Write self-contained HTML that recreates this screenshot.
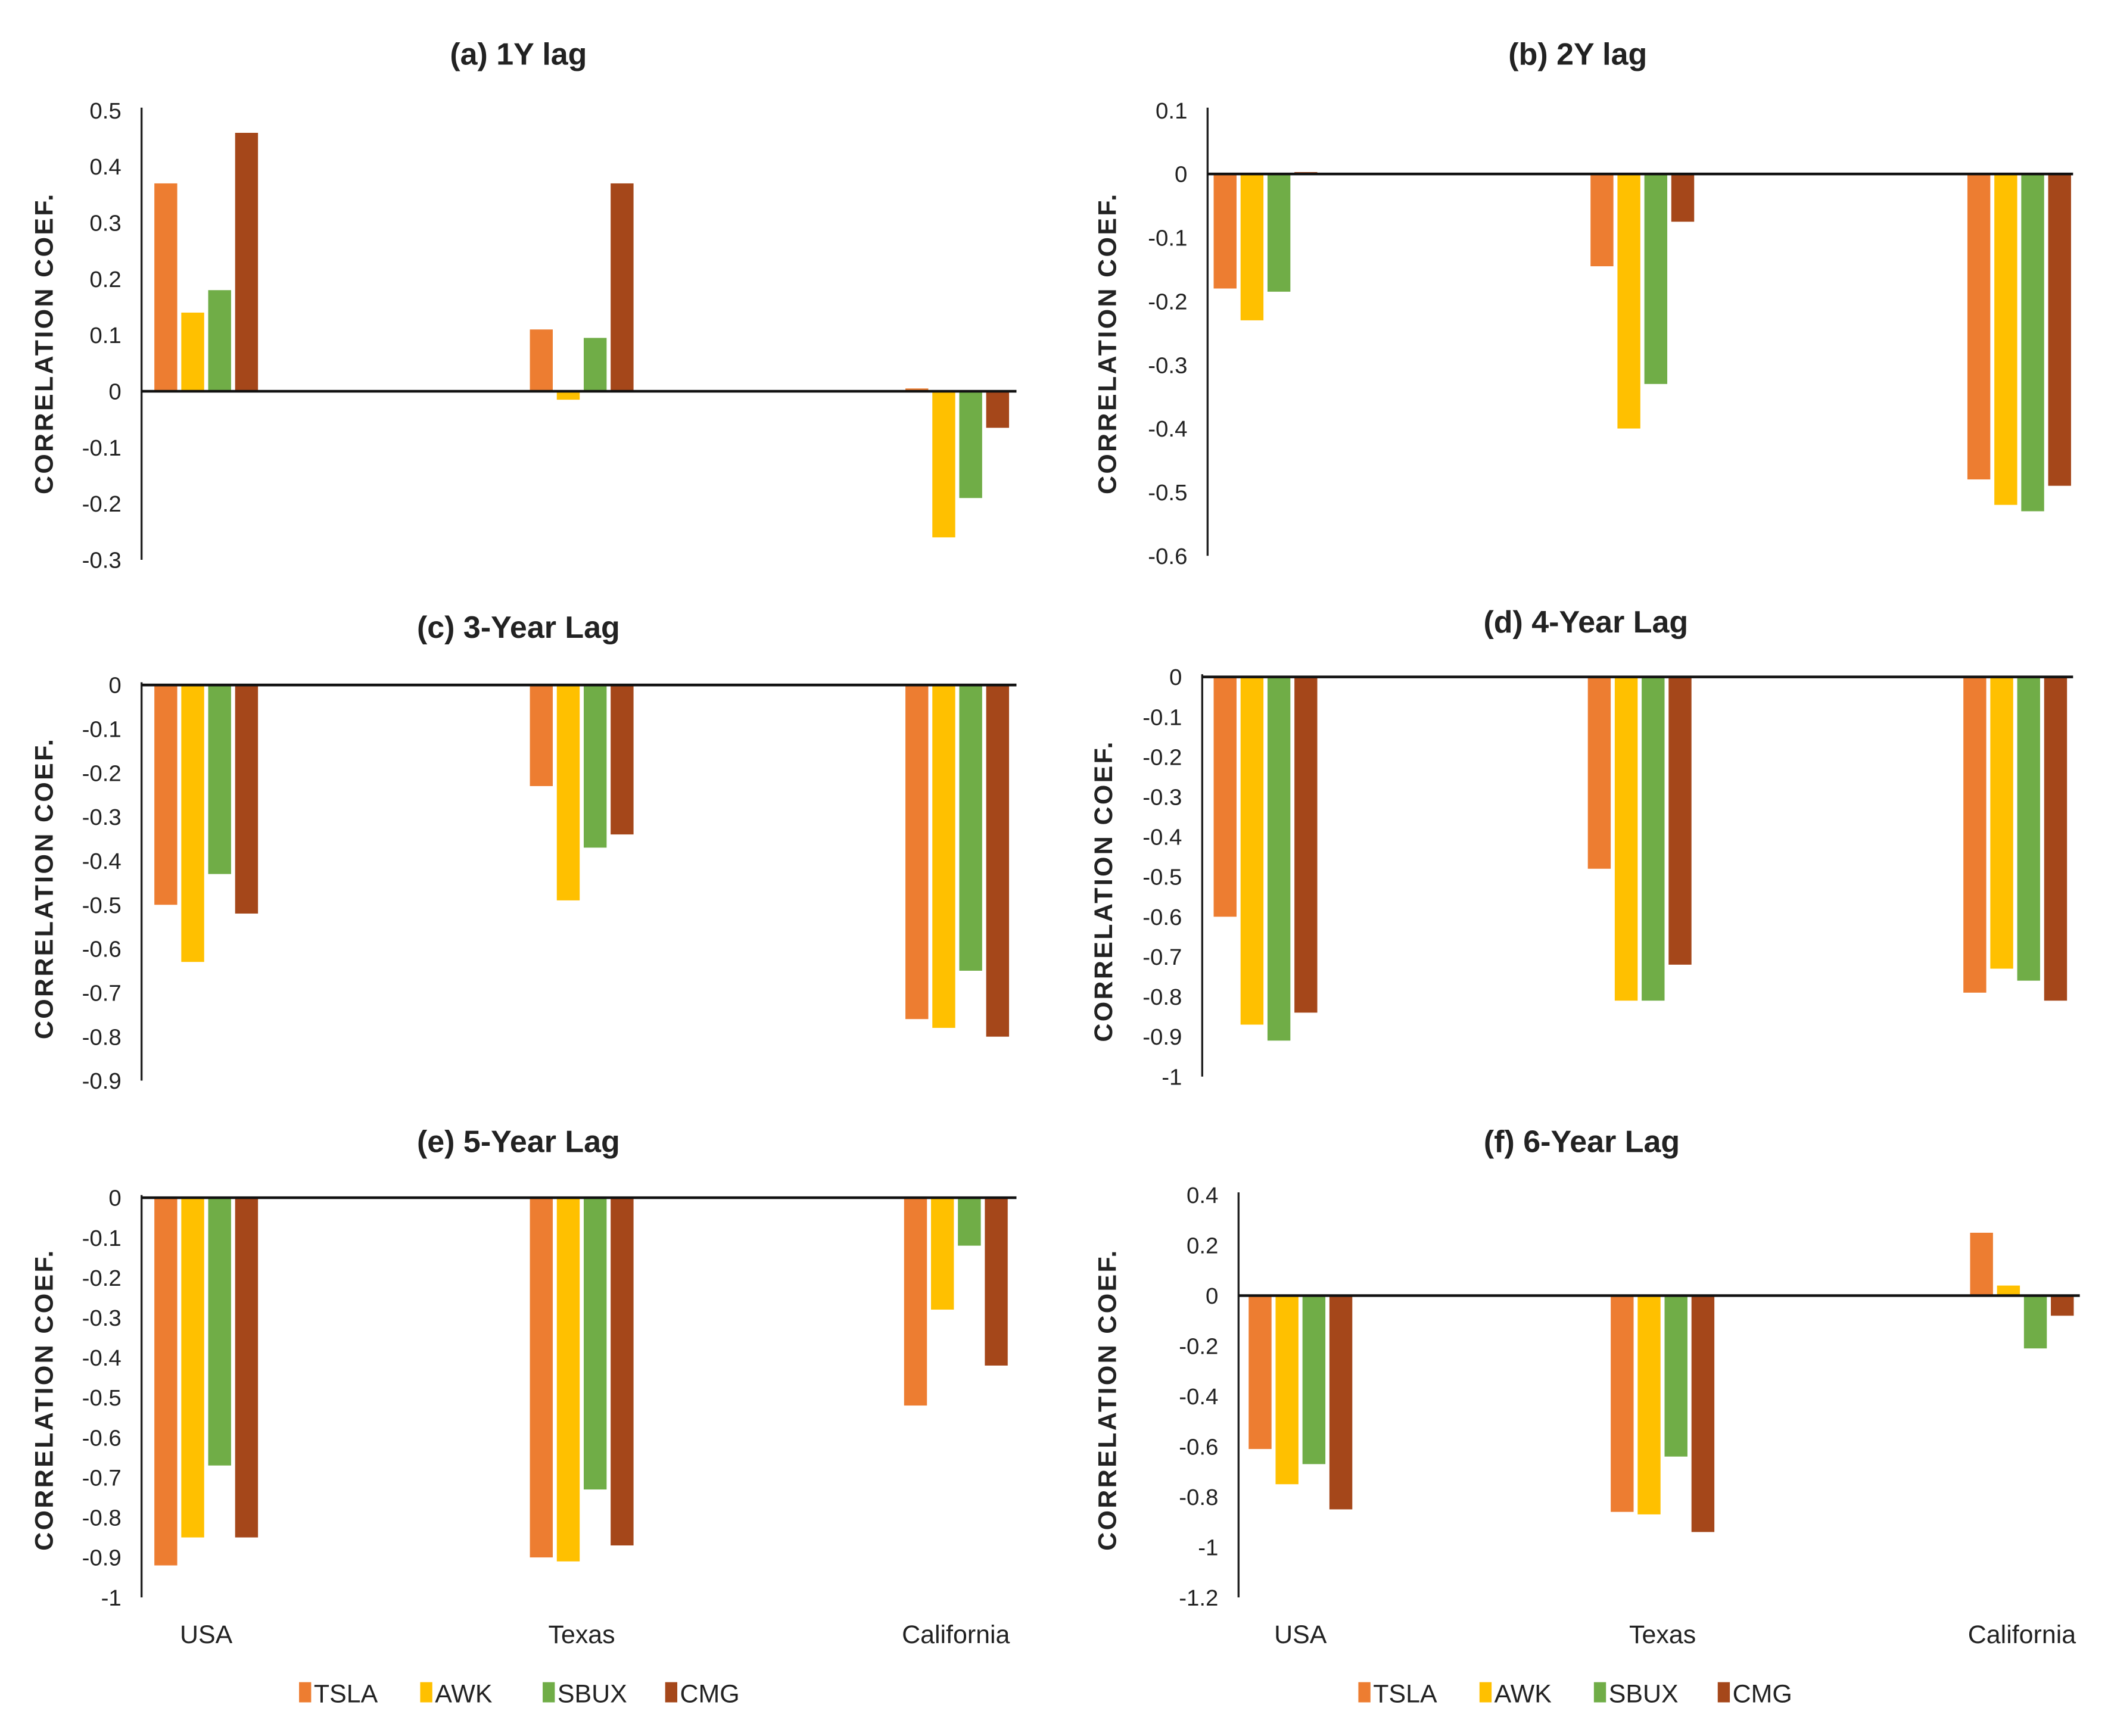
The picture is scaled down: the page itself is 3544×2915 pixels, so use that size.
<!DOCTYPE html>
<html><head><meta charset="utf-8">
<style>
html,body{margin:0;padding:0;background:#fff;}
svg{display:block;}
text{font-family:"Liberation Sans",Arial,sans-serif;}
</style></head>
<body>
<svg id="chart" width="3544" height="2915" viewBox="0 0 1568 1290" xmlns="http://www.w3.org/2000/svg"></svg>
<script>
const categories = ["USA","Texas","California"];
const series = ["TSLA","AWK","SBUX","CMG"];
const colors = ["#ED7D31","#FFC000","#70AD47","#A5471A"];
const valsA = [[0.37,0.14,0.18,0.46],[0.11,-0.015,0.095,0.37],[0.005,-0.26,-0.19,-0.065]];
const valsB = [[-0.18,-0.23,-0.185,0.003],[-0.145,-0.40,-0.33,-0.075],[-0.48,-0.52,-0.53,-0.49]];
const valsC = [[-0.50,-0.63,-0.43,-0.52],[-0.23,-0.49,-0.37,-0.34],[-0.76,-0.78,-0.65,-0.80]];
const valsD = [[-0.60,-0.87,-0.91,-0.84],[-0.48,-0.81,-0.81,-0.72],[-0.79,-0.73,-0.76,-0.81]];
const valsE = [[-0.92,-0.85,-0.67,-0.85],[-0.90,-0.91,-0.73,-0.87],[-0.52,-0.28,-0.12,-0.42]];
const valsF = [[-0.61,-0.75,-0.67,-0.85],[-0.86,-0.87,-0.64,-0.94],[0.25,0.04,-0.21,-0.08]];
const ticksA = ["0.5","0.4","0.3","0.2","0.1","0","-0.1","-0.2","-0.3"];
const ticksB = ["0.1","0","-0.1","-0.2","-0.3","-0.4","-0.5","-0.6"];
const ticksC = ["0","-0.1","-0.2","-0.3","-0.4","-0.5","-0.6","-0.7","-0.8","-0.9"];
const ticksD = ["0","-0.1","-0.2","-0.3","-0.4","-0.5","-0.6","-0.7","-0.8","-0.9","-1"];
const ticksE = ["0","-0.1","-0.2","-0.3","-0.4","-0.5","-0.6","-0.7","-0.8","-0.9","-1"];
const ticksF = ["0.4","0.2","0","-0.2","-0.4","-0.6","-0.8","-1","-1.2"];

const NS="http://www.w3.org/2000/svg";
const svg=document.getElementById('chart');
function mk(tag,attrs,parent){const e=document.createElementNS(NS,tag);for(const k in attrs)e.setAttribute(k,attrs[k]);(parent||svg).appendChild(e);return e;}

const panels=[
 {id:'a',title:'(a) 1Y lag',vals:valsA,ticks:ticksA,ax:105,yTop:82,yBot:416,xEnd:755,centers:[153,432,711],tx:385,ty:40,lx:33,ly:255},
 {id:'b',title:'(b) 2Y lag',vals:valsB,ticks:ticksB,ax:897,yTop:82,yBot:413,xEnd:1540,centers:[940,1220,1500],tx:1172,ty:40,lx:823,ly:255},
 {id:'c',title:'(c) 3-Year Lag',vals:valsC,ticks:ticksC,ax:105,yTop:509,yBot:803,xEnd:755,centers:[153,432,711],tx:385,ty:466,lx:33,ly:660},
 {id:'d',title:'(d) 4-Year Lag',vals:valsD,ticks:ticksD,ax:893,yTop:503,yBot:800,xEnd:1540,centers:[940,1218,1497],tx:1178,ty:462,lx:820,ly:662},
 {id:'e',title:'(e) 5-Year Lag',vals:valsE,ticks:ticksE,ax:105,yTop:890,yBot:1187,xEnd:755,centers:[153,432,710],tx:385,ty:848,lx:33,ly:1040,cat:true,leg:[228,318,409,500]},
 {id:'f',title:'(f) 6-Year Lag',vals:valsF,ticks:ticksF,ax:920,yTop:888,yBot:1187,xEnd:1545,centers:[966,1235,1502],tx:1175,ty:848,lx:823,ly:1040,cat:true,leg:[1015,1105,1190,1282]}
];

panels.forEach(p=>{
  const g=mk('g',{});
  
  
  const tmax=parseFloat(p.ticks[0]), tmin=parseFloat(p.ticks[p.ticks.length-1]);
  const y=v=>p.yTop+(tmax-v)/(tmax-tmin)*(p.yBot-p.yTop);
  const t=mk('text',{x:p.tx,y:p.ty+8,'text-anchor':'middle','font-size':23,'font-weight':'bold',fill:'#222'},g);
  t.textContent=p.title;
  
  
  const yl=mk('text',{x:p.lx,y:p.ly,'text-anchor':'middle','font-size':19,'font-weight':'bold','letter-spacing':1.5,fill:'#222',transform:`rotate(-90 ${p.lx} ${p.ly})`,dy:6},g);
  yl.textContent='CORRELATION COEF.';
  
  
  p.ticks.forEach(s=>{
    const tt=mk('text',{x:p.ax-15,y:y(parseFloat(s))+6,'text-anchor':'end','font-size':17,fill:'#222'},g);
    tt.textContent=s;
    
    
  });
  const axl=mk('line',{x1:p.ax,y1:p.yTop-2,x2:p.ax,y2:p.yBot,stroke:'#222','stroke-width':1.5},g);
  
  
  p.vals.forEach((row,ci)=>{
    row.forEach((v,si)=>{
      const cx=p.centers[ci]+(si-1.5)*20;
      const y0=y(0), y1=y(v);
      const r=mk('rect',{x:cx-8.5,y:Math.min(y0,y1),width:17,height:Math.max(Math.abs(y1-y0),0.5),fill:colors[si]},g);
      
      
    });
  });
  const zl=mk('line',{x1:p.ax,y1:y(0),x2:p.xEnd,y2:y(0),stroke:'#111','stroke-width':2},g);
  
  
  if(p.cat){
    categories.forEach((c,ci)=>{
      const ct=mk('text',{x:p.centers[ci],y:1221,'text-anchor':'middle','font-size':19,fill:'#222'},g);
      ct.textContent=c;
      
      
    });
    series.forEach((s,si)=>{
      const lx=p.leg[si];
      const sw=mk('rect',{x:lx-6,y:1250,width:9,height:15,fill:colors[si]},g);
      
      
      const lt=mk('text',{x:lx+5,y:1265,'font-size':19,fill:'#222'},g);
      lt.textContent=s;
      
      
    });
  }
});
</script>
</body></html>
